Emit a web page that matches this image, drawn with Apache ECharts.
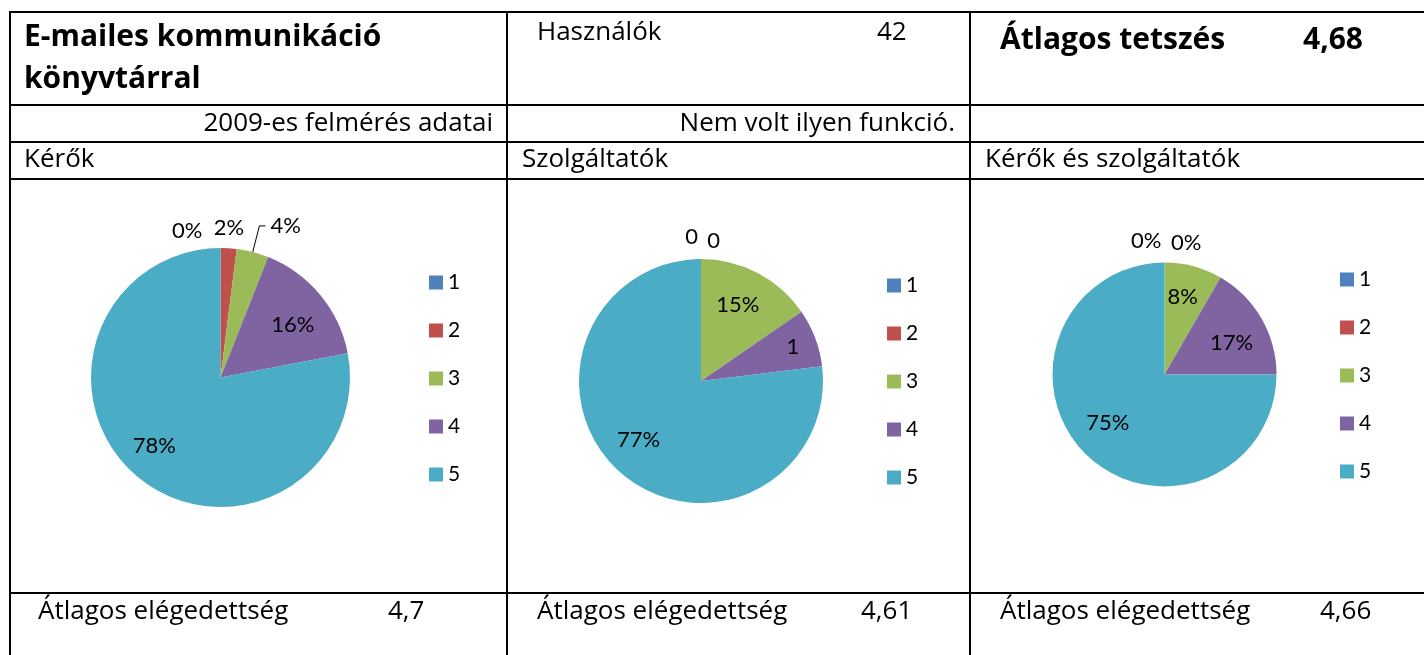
<!DOCTYPE html>
<html>
<head>
<meta charset="utf-8">
<script src="https://cdn.jsdelivr.net/npm/echarts@6/dist/echarts.min.js"></script>
<style>
  html, body { margin: 0; padding: 0; background: #fff; }
  #chart { width: 1424px; height: 655px; }
</style>
</head>
<body>
<div id="chart"></div>
<script>
// kategóriák (értékelés 1-5)
const categories = ['1', '2', '3', '4', '5'];
// darabszámok a három körhöz
const kerokValues = [0, 1, 2, 8, 39];
const szolgValues = [0, 0, 2, 1, 10];
const egyuttValues = [0, 0, 1, 2, 9];
// a szolgáltatók körnél néhol darabszám, néhol százalék a felirat
const szolgLabelFormat = ['{c}', '{c}', '{d}%', '{c}', '{d}%'];

const titleLines = ['E-mailes kommunikáció', 'könyvtárral'];
const userLabel = 'Használók';
const userCount = '42';
const likeLabel = 'Átlagos tetszés';
const likeValue = '4,68';
const row2Texts = ['2009-es felmérés adatai', 'Nem volt ilyen funkció.'];
const groupNames = ['Kérők', 'Szolgáltatók', 'Kérők és szolgáltatók'];
const avgLabel = 'Átlagos elégedettség';
const avgValues = ['4,7', '4,61', '4,66'];

const FONT = 'Lato, "Open Sans", sans-serif';
const TABLE_FONT = '"Open Sans", Lato, sans-serif';
const COLORS = ['#4F81BD', '#C0504D', '#9BBB59', '#8064A2', '#4BACC6'];

const chart = echarts.init(document.getElementById('chart'));

// táblázat vonalai
function hLine(y) {
  return { type: 'rect', shape: { x: 9, y: y - 1, width: 1415, height: 2 }, style: { fill: '#000' }, silent: true };
}
function vLine(x) {
  return { type: 'rect', shape: { x: x - 1, y: 11, width: 2, height: 644 }, style: { fill: '#000' }, silent: true };
}
function txt(s, x, y, font, align) {
  return {
    type: 'text', x: x, y: y, silent: true,
    style: { text: s, font: font, fill: '#000', align: align || 'left', verticalAlign: 'middle',
      textAlign: align || 'left', textVerticalAlign: 'middle' }
  };
}

const bold = 'bold 30px ' + TABLE_FONT;
const normal = '26px ' + TABLE_FONT;

const graphics = [
  hLine(12), hLine(105), hLine(142), hLine(179), hLine(593),
  vLine(10), vLine(507), vLine(970),
  txt(titleLines[0], 24, 37, bold),
  txt(titleLines[1], 24, 79, bold),
  txt(userLabel, 537, 33, normal),
  txt(userCount, 877, 33, normal),
  txt(likeLabel, 1000, 40, bold),
  txt(likeValue, 1303, 40, bold),
  txt(row2Texts[0], 493, 124, normal, 'right'),
  txt(row2Texts[1], 955, 124, normal, 'right'),
  txt(groupNames[0], 24, 160, normal),
  txt(groupNames[1], 522, 160, normal),
  txt(groupNames[2], 985, 160, normal),
  txt(avgLabel, 38, 612, normal),
  txt(avgValues[0], 388, 612, normal),
  txt(avgLabel, 537, 612, normal),
  txt(avgValues[1], 861, 612, normal),
  txt(avgLabel, 1000, 612, normal),
  txt(avgValues[2], 1320, 612, normal)
];

// feliratok finom elmozgatása az Excel elrendezéshez
function nudgeLayout(nudges) {
  return function (params) {
    const n = nudges[params.dataIndex];
    if (!n) return;
    const r = params.labelRect;
    return {
      x: r.x + r.width / 2 + n[0],
      y: r.y + r.height / 2 + n[1],
      align: 'center',
      verticalAlign: 'middle'
    };
  };
}

function pieData(values, formats, outside, lineItem) {
  return values.map(function (v, i) {
    const item = {
      name: categories[i],
      value: v,
      itemStyle: { color: COLORS[i] },
      label: {
        position: outside[i] ? 'outside' : 'inside',
        formatter: formats ? formats[i] : '{d}%'
      }
    };
    if (lineItem === i) {
      item.labelLine = { show: true, length: 27, length2: 6, lineStyle: { color: '#000', width: 1 } };
      item.label.distanceToLabelLine = 5;
    }
    return item;
  });
}

function pieSeries(values, center, radius, formats, outside, nudges, lineItem) {
  return {
    type: 'pie',
    center: center,
    radius: radius,
    startAngle: 90,
    clockwise: true,
    avoidLabelOverlap: false,
    percentPrecision: 0,
    animation: false,
    silent: true,
    itemStyle: { borderWidth: 0 },
    label: {
      show: true,
      color: '#000',
      fontFamily: FONT,
      fontSize: 22,
      distanceToLabelLine: 0
    },
    labelLine: { show: false, length: 0, length2: 0 },
    labelLayout: nudgeLayout(nudges),
    data: pieData(values, formats, outside, lineItem)
  };
}

function legendAt(left, top) {
  return {
    orient: 'vertical',
    left: left,
    top: top,
    icon: 'rect',
    itemWidth: 14,
    itemHeight: 14,
    itemGap: 27,
    padding: 0,
    selectedMode: false,
    data: categories,
    textStyle: { color: '#000', fontFamily: FONT, fontSize: 21, lineHeight: 21 }
  };
}

let option = {
  backgroundColor: '#fff',
  animation: false,
  legend: [legendAt(429, 272), legendAt(887, 275), legendAt(1340, 269)],
  series: [
    pieSeries(kerokValues, [220.5, 377.5], 129.5, null,
      [true, true, true, false, false],
      [[-18, -17], [-15, -20], null, [20, -9], [-23, 16]], 2),
    pieSeries(szolgValues, [701, 381], 122, szolgLabelFormat,
      [true, true, false, false, false],
      [[-3, -22], [19, -18], [7, -19], [32, -11], [-20, 11]]),
    pieSeries(egyuttValues, [1164.5, 374.5], 112, null,
      [true, true, false, false, false],
      [[-3, -22], [37, -20], [3, -21], [16, -2], [-15, 7]])
  ],
  graphic: graphics
};

option && chart.setOption(option);

window.addEventListener('resize', () => {
  chart.resize();
});
</script>
</body>
</html>
